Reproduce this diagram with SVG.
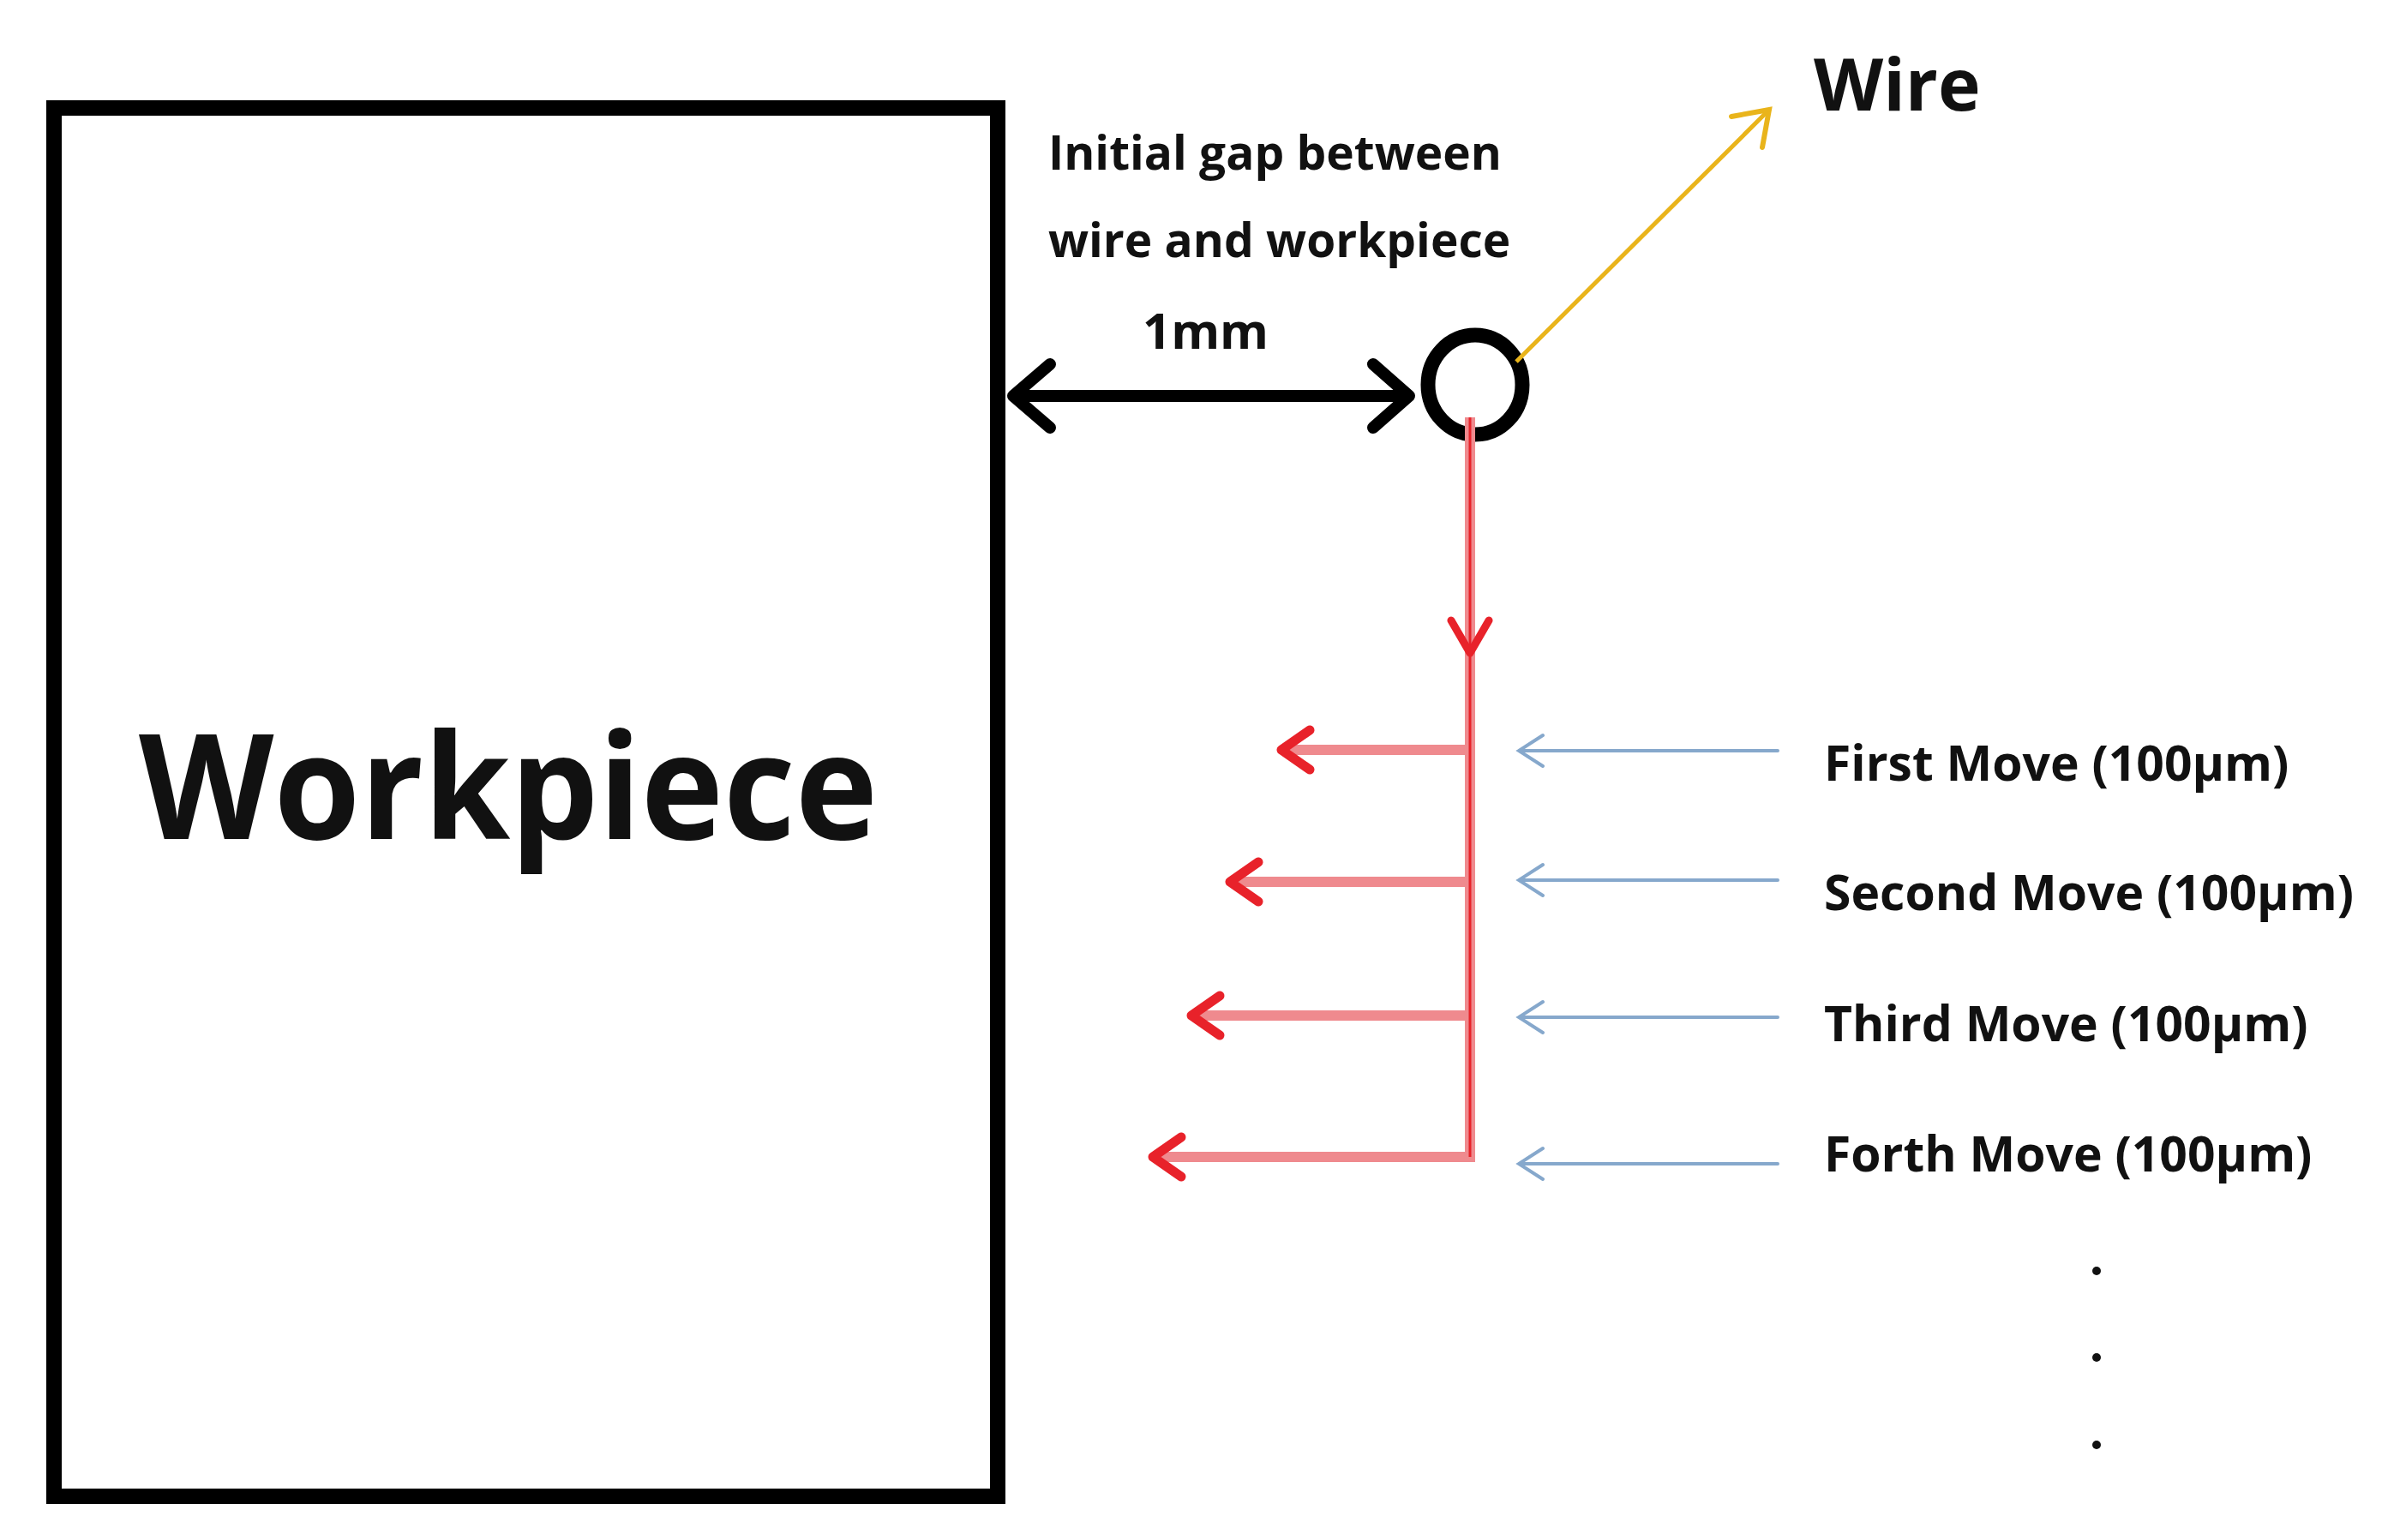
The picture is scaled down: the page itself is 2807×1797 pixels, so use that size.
<svg xmlns="http://www.w3.org/2000/svg" width="2807" height="1797" viewBox="0 0 2807 1797">
<style>
text{font-family:"Open Sans","Noto Sans",sans-serif;font-weight:bold;fill:#111}
.lbl{font-size:55px}
.mv{font-size:57px}
.red{stroke:#e8222a;fill:none;stroke-linecap:round;stroke-linejoin:round}
.redline{stroke:#ef8a8e;stroke-width:12;fill:none}
.blue{stroke:#86a8cc;stroke-width:4;fill:none;stroke-linecap:round}
</style>
<rect width="2807" height="1797" fill="#fff"/>
<g id="workpiece">
<rect x="63" y="126" width="1101" height="1620" fill="none" stroke="#000" stroke-width="18"/>
<text x="593" y="979" font-size="170" text-anchor="middle" textLength="862" lengthAdjust="spacingAndGlyphs">Workpiece</text>
</g>
<g id="wire">
<ellipse cx="1721" cy="449" rx="55" ry="58" fill="none" stroke="#000" stroke-width="17"/>
<text x="2116" y="129" font-size="84">Wire</text>
</g>
<g id="gap-label">
<text class="lbl" x="1223" y="198">Initial gap between</text>
<text class="lbl" x="1223" y="300">wire and workpiece</text>
<text x="1333" y="407" font-size="58">1mm</text>
</g>
<g id="moves">
<text class="mv" x="2128" y="911">First Move (100µm)</text>
<text class="mv" x="2128" y="1062">Second Move (100µm)</text>
<text class="mv" x="2128" y="1215">Third Move (100µm)</text>
<text class="mv" x="2128" y="1367">Forth Move (100µm)</text>
<circle cx="2446" cy="1483" r="5" fill="#111"/>
<circle cx="2446" cy="1584" r="5" fill="#111"/>
<circle cx="2446" cy="1686" r="5" fill="#111"/>
</g>
<g id="connectors">
<line x1="1182" y1="462" x2="1644" y2="462" stroke="#000" stroke-width="14"/>
<polyline points="1225,425 1182,462 1225,499" fill="none" stroke="#000" stroke-width="14" stroke-linecap="round" stroke-linejoin="round"/>
<polyline points="1602,425 1644,462 1602,499" fill="none" stroke="#000" stroke-width="14" stroke-linecap="round" stroke-linejoin="round"/>
<line x1="1769" y1="422" x2="2062" y2="130" stroke="#e9b41b" stroke-width="5"/>
<polyline points="2020,136 2064,128 2056,172" fill="none" stroke="#e9b41b" stroke-width="6" stroke-linecap="round"/>
<path class="redline" d="M1715,487 V1350 H1345 M1715,875 H1495 M1715,1029 H1435 M1715,1185 H1390"/>
<line x1="1715" y1="487" x2="1715" y2="1350" stroke="#e8222a" stroke-width="3"/>
<polyline class="red" stroke-width="9" points="1693,724 1715,762 1737,724"/>
<polyline class="red" stroke-width="11" points="1528,852 1495,875 1528,898"/>
<polyline class="red" stroke-width="11" points="1468,1006 1435,1029 1468,1052"/>
<polyline class="red" stroke-width="11" points="1423,1162 1390,1185 1423,1208"/>
<polyline class="red" stroke-width="11" points="1378,1327 1345,1350 1378,1373"/>
<g class="blue">
<path d="M2074,876 H1772 M1800,858 L1772,876 L1800,894"/>
<path d="M2074,1027 H1772 M1800,1009 L1772,1027 L1800,1045"/>
<path d="M2074,1187 H1772 M1800,1169 L1772,1187 L1800,1205"/>
<path d="M2074,1358 H1772 M1800,1340 L1772,1358 L1800,1376"/>
</g>
</g>
</svg>
